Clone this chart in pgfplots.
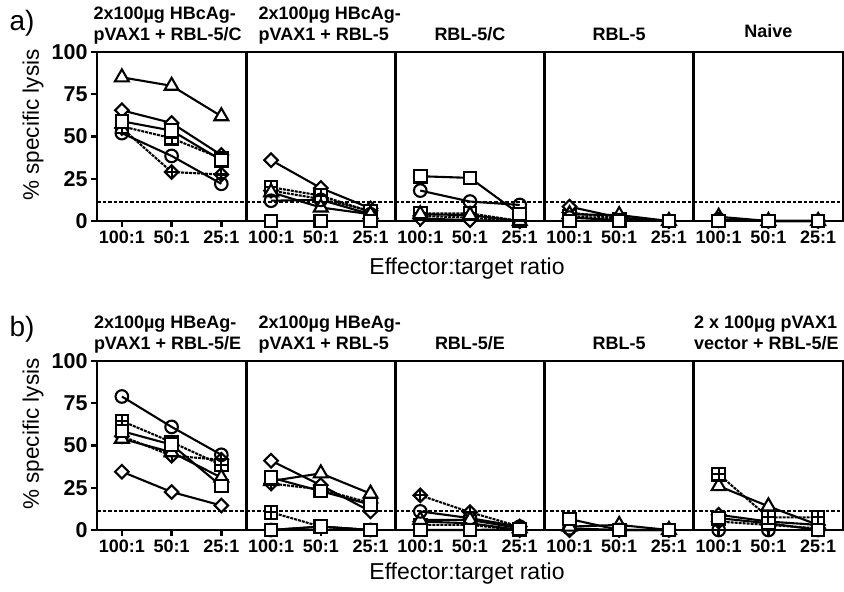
\documentclass[border=0pt]{standalone}
\usepackage{pgfplots}
\pgfplotsset{compat=1.18}
\usepackage{fontspec}
\setmainfont{Liberation Sans}

\pgfdeclareplotmark{xsq}{%
 \pgfpathrectangle{\pgfqpoint{-\pgfplotmarksize}{-\pgfplotmarksize}}{\pgfqpoint{2\pgfplotmarksize}{2\pgfplotmarksize}}%
 \pgfusepathqfillstroke
 \pgfpathmoveto{\pgfqpoint{-\pgfplotmarksize}{0pt}}\pgfpathlineto{\pgfqpoint{\pgfplotmarksize}{0pt}}%
 \pgfpathmoveto{\pgfqpoint{0pt}{-\pgfplotmarksize}}\pgfpathlineto{\pgfqpoint{0pt}{\pgfplotmarksize}}%
 \pgfusepathqstroke}
\pgfdeclareplotmark{dia}{%
 \pgfpathmoveto{\pgfqpoint{0pt}{\pgfplotmarksize}}%
 \pgfpathlineto{\pgfqpoint{\pgfplotmarksize}{0pt}}%
 \pgfpathlineto{\pgfqpoint{0pt}{-\pgfplotmarksize}}%
 \pgfpathlineto{\pgfqpoint{-\pgfplotmarksize}{0pt}}%
 \pgfpathclose\pgfusepathqfillstroke}
\pgfdeclareplotmark{xdia}{%
 \pgfpathmoveto{\pgfqpoint{0pt}{\pgfplotmarksize}}%
 \pgfpathlineto{\pgfqpoint{\pgfplotmarksize}{0pt}}%
 \pgfpathlineto{\pgfqpoint{0pt}{-\pgfplotmarksize}}%
 \pgfpathlineto{\pgfqpoint{-\pgfplotmarksize}{0pt}}%
 \pgfpathclose\pgfusepathqfillstroke
 \pgfpathmoveto{\pgfqpoint{-\pgfplotmarksize}{0pt}}\pgfpathlineto{\pgfqpoint{\pgfplotmarksize}{0pt}}%
 \pgfpathmoveto{\pgfqpoint{0pt}{-\pgfplotmarksize}}\pgfpathlineto{\pgfqpoint{0pt}{\pgfplotmarksize}}%
 \pgfusepathqstroke}

\pgfplotsset{
 panel/.style={scale only axis, width=149.2pt, height=169pt,
  xmin=-0.5, xmax=2.5, ymin=0, ymax=100,
  xtick={0,1,2}, xticklabels={100:1,50:1,25:1},
  xtick pos=left, ytick pos=left, tick align=outside,
  major tick length=6pt,
  axis line style={line width=2.8pt},
  tick style={line width=2.4pt, black},
  clip=false, anchor=south west,
  /pgf/number format/assume math mode=true,
  xticklabel style={font=\bfseries\fontsize{18}{18}\selectfont, yshift=0pt},
  yticklabel style={font=\bfseries\fontsize{21.5}{21.5}\selectfont, xshift=0pt},
  title style={font=\bfseries\fontsize{18}{21.7}\selectfont, align=left,
   anchor=south, inner sep=0pt, text depth=0pt, yshift=5pt},
 },
 firsty/.style={ytick={0,25,50,75,100}},
 noy/.style={ytick=\empty},
 base/.style={black, line width=2.1pt, mark size=6.3pt,
  mark options={solid, fill=white, line width=2.1pt}},
 sC/.style={base, mark=o},
 sS/.style={base, mark=square*},
 sT/.style={base, mark=triangle*, mark size=8pt},
 sD/.style={base, mark=dia, mark size=6.8pt},
 sXS/.style={base, dash pattern=on 3pt off 1pt, mark=xsq},
 sXD/.style={base, dash pattern=on 3pt off 1pt, mark=xdia, mark size=6.8pt},
 thr/.style={black, line width=2pt, dash pattern=on 3.5pt off 2pt},
}

\begin{document}
\begin{tikzpicture}[x=1pt,y=1pt]
\useasboundingbox (0,0) rectangle (844,592);

% ---------------- Row a ----------------
\begin{axis}[panel, firsty, at={(97pt,371pt)},
 title={2x100µg HBcAg-\\pVAX1 + RBL-5/C}, title style={xshift=-4pt}]
\addplot[thr] coordinates {(-0.5,11) (2.5,11)};
\addplot[sXD] coordinates {(0,55) (1,29) (2,27.5)};
\addplot[sD] coordinates {(0,65.5) (1,58) (2,39)};
\addplot[sXS] coordinates {(0,56) (1,49) (2,37)};
\addplot[sT] coordinates {(0,85) (1,80) (2,62)};
\addplot[sC] coordinates {(0,52) (1,38.5) (2,22)};
\addplot[sS] coordinates {(0,59) (1,53.5) (2,36)};
\end{axis}

\begin{axis}[panel, noy, at={(246.2pt,371pt)},
 title={2x100µg HBcAg-\\pVAX1 + RBL-5}, title style={xshift=9pt}]
\addplot[thr] coordinates {(-0.5,11) (2.5,11)};
\addplot[sXD] coordinates {(0,18) (1,13) (2,6)};
\addplot[sD] coordinates {(0,36) (1,19.5) (2,7.5)};
\addplot[sXS] coordinates {(0,20) (1,15) (2,5.5)};
\addplot[sT] coordinates {(0,17) (1,8) (2,4)};
\addplot[sC] coordinates {(0,12) (1,12.5) (2,4)};
\addplot[sS] coordinates {(0,0) (1,0) (2,0)};
\end{axis}

\begin{axis}[panel, noy, at={(395.4pt,371pt)}, title={RBL-5/C}]
\addplot[thr] coordinates {(-0.5,11) (2.5,11)};
\addplot[sXD] coordinates {(0,3) (1,2) (2,0)};
\addplot[sD] coordinates {(0,1.5) (1,0.5) (2,0)};
\addplot[sXS] coordinates {(0,4.5) (1,4.5) (2,0)};
\addplot[sT] coordinates {(0,4) (1,3.5) (2,0)};
\addplot[sC] coordinates {(0,18) (1,11.5) (2,9.5)};
\addplot[sS] coordinates {(0,26.5) (1,25.5) (2,4)};
\end{axis}

\begin{axis}[panel, noy, at={(544.6pt,371pt)}, title={RBL-5}]
\addplot[thr] coordinates {(-0.5,11) (2.5,11)};
\addplot[sXD] coordinates {(0,5) (1,1.5) (2,0)};
\addplot[sD] coordinates {(0,8.5) (1,2) (2,0)};
\addplot[sXS] coordinates {(0,3) (1,1) (2,0)};
\addplot[sT] coordinates {(0,4) (1,3.5) (2,0)};
\addplot[sC] coordinates {(0,2) (1,0.5) (2,0)};
\addplot[sS] coordinates {(0,0) (1,0) (2,0)};
\end{axis}

\begin{axis}[panel, noy, at={(693.8pt,371pt)}, title={Naive}, title style={yshift=3pt}]
\addplot[thr] coordinates {(-0.5,11) (2.5,11)};
\addplot[sD] coordinates {(0,0.5) (1,0) (2,0)};
\addplot[sT] coordinates {(0,2.5) (1,0) (2,0)};
\addplot[sC] coordinates {(0,1) (1,0) (2,0)};
\addplot[sS] coordinates {(0,0) (1,0) (2,0)};
\end{axis}

% ---------------- Row b ----------------
\begin{axis}[panel, firsty, at={(97pt,62pt)},
 title={2x100µg HBeAg-\\pVAX1 + RBL-5/E}, title style={xshift=-4pt}]
\addplot[thr] coordinates {(-0.5,11) (2.5,11)};
\addplot[sXD] coordinates {(0,55.5) (1,44) (2,41.5)};
\addplot[sD] coordinates {(0,34.5) (1,22.5) (2,14.5)};
\addplot[sXS] coordinates {(0,64.5) (1,52) (2,38.5)};
\addplot[sT] coordinates {(0,54) (1,46) (2,31)};
\addplot[sC] coordinates {(0,79) (1,61) (2,44.5)};
\addplot[sS] coordinates {(0,58.5) (1,50.5) (2,26)};
\end{axis}

\begin{axis}[panel, noy, at={(246.2pt,62pt)},
 title={2x100µg HBeAg-\\pVAX1 + RBL-5}, title style={xshift=9pt}]
\addplot[thr] coordinates {(-0.5,11) (2.5,11)};
\addplot[sXD] coordinates {(0,27.5) (1,24) (2,16)};
\addplot[sD] coordinates {(0,41) (1,26.5) (2,11)};
\addplot[sXS] coordinates {(0,10.5) (1,2) (2,0)};
\addplot[sT] coordinates {(0,29) (1,33.5) (2,21.5)};
\addplot[sC] coordinates {(0,0) (1,2) (2,0)};
\addplot[sS] coordinates {(0,31) (1,23) (2,15)};
\addplot[sS] coordinates {(0,0) (1,2) (2,0)};
\end{axis}

\begin{axis}[panel, noy, at={(395.4pt,62pt)}, title={RBL-5/E}]
\addplot[thr] coordinates {(-0.5,11) (2.5,11)};
\addplot[sXD] coordinates {(0,20.5) (1,10.5) (2,2)};
\addplot[sD] coordinates {(0,5) (1,4) (2,0)};
\addplot[sXS] coordinates {(0,3) (1,3) (2,0)};
\addplot[sT] coordinates {(0,6) (1,6) (2,1)};
\addplot[sC] coordinates {(0,11) (1,7) (2,2)};
\addplot[sS] coordinates {(0,0) (1,0) (2,0.5)};
\end{axis}

\begin{axis}[panel, noy, at={(544.6pt,62pt)}, title={RBL-5}]
\addplot[thr] coordinates {(-0.5,11) (2.5,11)};
\addplot[sD] coordinates {(0,0) (1,0) (2,0)};
\addplot[sT] coordinates {(0,2) (1,3) (2,0)};
\addplot[sC] coordinates {(0,1) (1,0) (2,0)};
\addplot[sS] coordinates {(0,6.5) (1,0) (2,0)};
\end{axis}

\begin{axis}[panel, noy, at={(693.8pt,62pt)},
 title={2 x 100µg pVAX1\\vector + RBL-5/E}, title style={xshift=-2pt}]
\addplot[thr] coordinates {(-0.5,11) (2.5,11)};
\addplot[sXD] coordinates {(0,5) (1,3) (2,1)};
\addplot[sD] coordinates {(0,9) (1,5) (2,3)};
\addplot[sC] coordinates {(0,0) (1,0) (2,0)};
\addplot[sT] coordinates {(0,26) (1,14) (2,3)};
\addplot[sS] coordinates {(0,7) (1,4) (2,0)};
\addplot[sXS] coordinates {(0,33) (1,7.5) (2,7.5)};
\end{axis}

% ---------------- labels ----------------
\node[anchor=base west, font=\fontsize{28}{28}\selectfont] at (6,561) {a)};
\node[anchor=base west, font=\fontsize{28}{28}\selectfont] at (6,255) {b)};
\node[rotate=90, font=\fontsize{22.5}{22.5}\selectfont] at (33,467) {\% specific lysis};
\node[rotate=90, font=\fontsize{22.5}{22.5}\selectfont] at (33,158) {\% specific lysis};
\node[anchor=base, font=\fontsize{23}{23}\selectfont] at (467,317) {Effector:target ratio};
\node[anchor=base, font=\fontsize{23}{23}\selectfont] at (467,12) {Effector:target ratio};
\end{tikzpicture}
\end{document}
